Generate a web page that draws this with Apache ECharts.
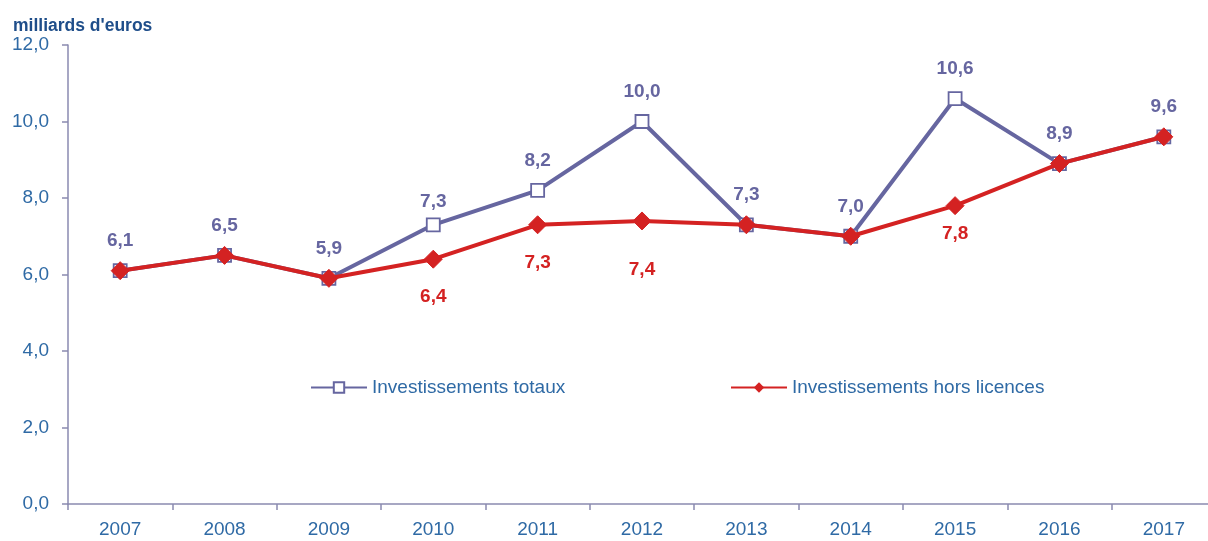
<!DOCTYPE html>
<html><head><meta charset="utf-8">
<script src="https://cdn.jsdelivr.net/npm/echarts@6/dist/echarts.min.js"></script>
<style>html,body{margin:0;padding:0;background:#fff}#c{width:1208px;height:541px}</style>
</head><body><div id="c"></div>
<script>
const categories = ['2007','2008','2009','2010','2011','2012','2013','2014','2015','2016','2017'];
const totaux = [6.1, 6.5, 5.9, 7.3, 8.2, 10.0, 7.3, 7.0, 10.6, 8.9, 9.6];
const horsLicences = [6.1, 6.5, 5.9, 6.4, 7.3, 7.4, 7.3, 7.0, 7.8, 8.9, 9.6];
const yTicks = [0, 2, 4, 6, 8, 10, 12];

const FONT = 'Liberation Sans';
const fmt = v => v.toFixed(1).replace('.', ',');
const purple = '#6666a0';
const red = '#d42222';
const axisCol = '#8a8ab0';
const textBlue = '#2f6aa5';

// label placement tweaks (style, not data)
const topDist = { 3: 6 };
const botDist = { 3: 19, 4: 19, 5: 30, 8: 9 };

const chart = echarts.init(document.getElementById('c'));
chart.setOption({
  animation: false,
  textStyle: { fontFamily: FONT },
  title: { text: "milliards d'euros", left: 13, top: 17, padding: 0,
    textStyle: { fontFamily: FONT, fontSize: 17.5, fontWeight: 'bold', color: '#1f4e8a' } },
  grid: { left: 68, width: 1148, top: 45, bottom: 37, outerBoundsMode: 'none', containLabel: false },
  legend: [
    { data: ['Investissements totaux'], left: 310, top: 378, padding: 0, itemWidth: 56, itemHeight: 13, itemGap: 4,
      textStyle: { fontFamily: FONT, fontSize: 19, color: textBlue, padding: [0,0,0,0] } },
    { data: ['Investissements hors licences'], left: 730, top: 378, padding: 0, itemWidth: 56, itemHeight: 13, itemGap: 4,
      textStyle: { fontFamily: FONT, fontSize: 19, color: textBlue, padding: [0,0,0,0] } }
  ],
  xAxis: {
    type: 'category', data: categories, boundaryGap: true,
    axisLine: { lineStyle: { color: axisCol, width: 1.5 } },
    axisTick: { show: true, length: 6, lineStyle: { color: axisCol, width: 1.5 } },
    axisLabel: { color: textBlue, fontSize: 19, margin: 16, fontFamily: FONT }
  },
  yAxis: {
    type: 'value', min: yTicks[0], max: yTicks[yTicks.length - 1], interval: 2,
    axisLine: { show: true, lineStyle: { color: axisCol, width: 1.5 } },
    axisTick: { show: true, length: 6, lineStyle: { color: axisCol, width: 1.5 } },
    splitLine: { show: false },
    axisLabel: { color: textBlue, fontSize: 19, margin: 19, fontFamily: FONT, formatter: v => fmt(v) }
  },
  series: [
    { name: 'Investissements totaux', type: 'line',
      data: totaux.map((v, i) => ({ value: v, label: { distance: topDist[i] !== undefined ? topDist[i] : 13 } })),
      symbol: 'rect', symbolSize: 13,
      itemStyle: { color: '#fff', borderColor: purple, borderWidth: 1.8 },
      lineStyle: { color: purple, width: 4 },
      label: { show: true, position: 'top', formatter: p => fmt(p.value),
        color: purple, fontSize: 19, fontWeight: 'bold', fontFamily: FONT },
      z: 2 },
    { name: 'Investissements hors licences', type: 'line',
      data: horsLicences.map((v, i) => ({ value: v,
        label: { show: v !== totaux[i], distance: botDist[i] !== undefined ? botDist[i] : 19 } })),
      symbol: 'diamond', symbolSize: 18,
      itemStyle: { color: red, borderColor: red },
      lineStyle: { color: red, width: 4 },
      label: { position: 'bottom', formatter: p => fmt(p.value),
        color: red, fontSize: 19, fontWeight: 'bold', fontFamily: FONT },
      z: 3 }
  ]
});
</script></body></html>
